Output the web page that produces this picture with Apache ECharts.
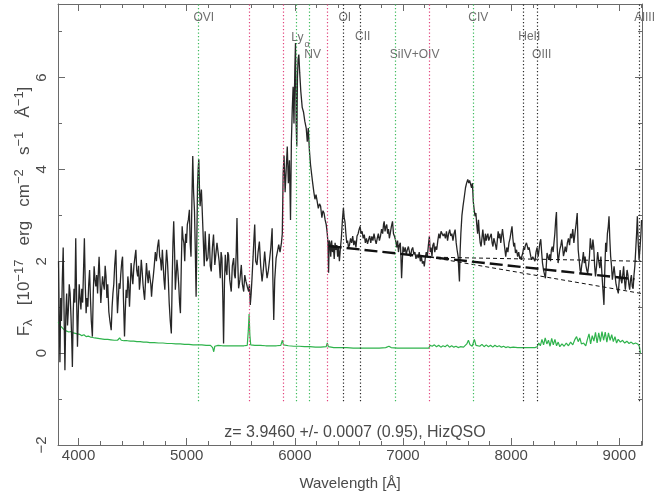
<!DOCTYPE html>
<html>
<head>
<meta charset="utf-8">
<script src="https://cdn.jsdelivr.net/npm/echarts@6/dist/echarts.min.js"></script>
<style>
  html, body { margin: 0; background: #fff; }
  #chart { width: 664px; height: 495px; }
</style>
</head>
<body>
<div id="chart"></div>
<script>
// observed spectrum, [wavelength (A), flux (1e-17 erg/cm2/s/A)]
const fluxBlue = [
  [3815,2.0],[3822,0.6],[3828,-0.2],[3835,1.2],[3842,0.7],[3850,1.6],[3858,2.3],[3866,0.9],[3874,-0.37],[3882,0.8],
  [3890,1.3],[3898,0.6],[3906,0.95],[3914,1.5],[3922,1.3],[3930,0.8],[3937,0.3],[3943,-0.3],[3951,0.9],[3958,1.4],
  [3966,1.1],[3974,2.5],[3982,1.2],[3990,0.14],[3998,0.9],[4006,1.5],[4014,1.2],[4022,0.95],[4030,1.4],[4038,1.1],
  [4046,1.8],[4054,2.5],[4062,1.5],[4070,0.87],[4078,1.2],[4086,1.01],[4094,1.5],[4102,1.81],[4110,1.2],[4118,0.7],
  [4128,0.36],[4136,1.3],[4144,1.89],[4152,1.6],[4160,1.45],[4168,1.7],[4176,1.3],[4184,1.8],[4190,2.1],[4198,1.6],
  [4206,1.09],[4214,1.4],[4222,1.67],[4230,1.5],[4238,1.38],[4246,1.9],[4254,1.67],[4262,1.2],[4270,1.5],[4280,0.9],
  [4290,0.7],[4302,0.5],[4310,1.0],[4318,1.3],[4326,1.5],[4334,1.9],[4345,2.25],[4352,1.5],[4360,0.87],[4368,1.2],
  [4375,1.52],[4383,1.4],[4390,1.7],[4400,2.0],[4407,2.1],[4415,1.2],[4425,0.36],[4432,0.9],[4440,1.38],[4448,1.2],
  [4456,1.67],[4463,1.5],[4471,1.01],[4478,1.4],[4486,1.96],[4494,1.7],[4502,1.5],[4512,1.9],[4522,2.1],[4530,2.25],
  [4538,1.8],[4547,1.67],[4555,1.9],[4563,1.38],[4571,1.6],[4580,2.03],[4588,1.8],[4596,1.5],[4604,1.3],[4611,1.16],
  [4620,1.6],[4628,1.96],[4636,1.7],[4644,1.52],[4652,1.8],[4660,1.81],[4668,1.5],[4675,1.23],[4683,1.5],[4691,1.67],
  [4700,1.9],[4710,2.2],[4720,2.0],[4730,2.3],[4741,2.47],[4750,2.1],[4758,2.03],[4766,1.8],[4775,2.25],[4783,1.9],
  [4790,1.6],[4798,1.38],[4806,1.9],[4814,2.25],[4822,2.0],[4830,1.6],[4838,1.1],[4848,0.7],[4858,0.43],[4866,1.6],
  [4873,2.4],[4880,2.87],[4888,2.2],[4895,1.38],[4903,1.7],[4910,2.03],[4918,1.8],[4926,1.5],[4934,1.1],[4942,0.87],
  [4950,1.9],[4958,2.76],[4966,2.5],[4974,2.4],[4982,2.0],[4990,2.6],[4998,2.4],[5006,2.8],[5015,2.9],[5025,3.12],
  [5032,2.4],[5040,2.1],[5048,3.3],[5056,4.29],[5064,3.49],[5072,3.1],[5080,2.2],[5087,1.23],[5094,2.5],[5100,3.63],
  [5106,4.0],[5112,4.22],[5118,3.6],[5124,3.2],[5130,3.4],[5136,3.56],[5142,3.2],[5150,2.7],[5156,2.3],[5162,1.89]
];
const fluxLya = [
  [5171,2.65],[5184,2.0],[5196,2.07],[5208,2.6],[5218,1.9],[5227,1.78],[5238,2.3],[5248,2.58],[5260,1.92],[5270,1.92],
  [5280,2.4],[5288,2.43],[5300,2.0],[5310,1.63],[5318,2.2],[5326,2.07],[5334,1.2],[5341,0.21],[5349,1.5],[5357,2.14],
  [5365,1.8],[5372,1.7],[5380,2.2],[5387,2.14],[5398,1.6],[5412,1.34],[5422,1.9],[5434,2.07],[5442,1.7],[5449,1.63],
  [5458,2.2],[5465,2.94],[5472,2.0],[5480,1.41],[5492,1.6],[5505,1.92],[5515,1.5],[5527,1.34],[5537,1.7],[5548,1.56],
  [5560,1.45],[5573,1.34],[5580,1.5],[5588,1.05],[5596,1.3],[5604,1.63],[5614,2.1],[5622,2.5],[5629,2.8],[5638,2.0],
  [5650,1.92],[5660,2.2],[5672,2.43],[5684,1.9],[5697,1.56],[5708,1.8],[5721,2.21],[5732,1.9],[5743,1.63],[5755,1.8],
  [5768,2.07],[5778,2.3],[5790,2.72],[5797,1.6],[5805,0.72],[5814,1.6],[5827,2.07],[5838,2.2],[5851,2.36],[5863,2.2],
  [5876,2.4],[5884,2.6],[5892,3.9],[5900,4.3],[5910,3.5],[5920,4.0],[5930,4.5],[5940,3.7],[5950,4.2],[5960,2.9],
  [5968,4.6],[5976,5.3],[5984,5.8],[5992,5.0],[6000,6.2],[6006,6.75],[6012,5.0],[6018,4.5],[6024,6.0],[6030,6.4],
  [6037,6.5],[6045,6.1],[6055,5.7],[6068,5.35],[6080,5.25],[6092,5.05],[6105,4.9],[6115,4.6],[6124,4.9],[6135,4.4],
  [6145,4.1],[6155,3.9],[6165,3.7],[6176,3.5],[6186,3.35],[6196,3.45],[6207,3.3],[6217,3.15],[6228,3.25],[6238,3.2],
  [6250,2.95],[6260,3.1],[6270,3.05],[6280,2.9],[6290,2.8],[6300,2.6],[6306,2.4],[6312,1.75],[6318,2.45],[6325,2.4],
  [6332,2.1],[6340,2.45],[6348,2.2],[6356,2.35],[6364,2.05],[6372,2.4],[6380,2.25],[6388,2.35],[6396,2.1],[6404,2.3],
  [6412,2.0],[6420,2.25],[6430,2.5],[6440,2.9]
];
const fluxMid = [
  [6449,3.16],[6456,2.95],[6464,2.85],[6472,2.6],[6480,2.4],[6488,2.45],[6496,2.3],[6505,2.35],[6515,2.5],[6525,2.4],
  [6535,2.55],[6545,2.35],[6555,2.45],[6565,2.3],[6575,2.55],[6585,2.6],[6595,2.7],[6603,2.76],[6612,2.6],[6622,2.65],
  [6632,2.5],[6642,2.58],[6652,2.4],[6662,2.5],[6672,2.38],[6682,2.47],[6692,2.55],[6702,2.4],[6712,2.54],[6722,2.45],
  [6732,2.6],[6742,2.47],[6752,2.38],[6762,2.5],[6772,2.6],[6782,2.45],[6792,2.55],[6802,2.7],[6812,2.6],[6820,2.8],
  [6826,2.87],[6834,2.65],[6842,2.75],[6850,2.8],[6858,2.6],[6866,2.7],[6874,2.5],[6882,2.6],[6892,2.75],[6903,2.87],
  [6912,2.6],[6922,2.54],[6932,2.45],[6942,2.3],[6950,2.45],[6958,2.2],[6966,2.35],[6975,2.4],[6981,2.1],[6987,1.63],
  [6994,2.0],[7000,2.32],[7010,2.2],[7020,2.3],[7030,2.15],[7040,2.25],[7050,2.32],[7060,2.2],[7070,2.1],[7080,2.25],
  [7090,2.3],[7100,2.15],[7110,2.2],[7120,2.05],[7130,2.15],[7140,2.07],[7150,2.2],[7160,2.0],[7170,2.1],[7180,1.95],
  [7190,2.0],[7197,1.89],[7205,2.05],[7215,2.2],[7225,2.1],[7235,2.35],[7244,2.54],[7252,2.2],[7260,2.3],[7268,2.1],
  [7276,2.35],[7285,2.4],[7294,2.2],[7303,2.32],[7312,2.25],[7322,2.45],[7332,2.6],[7342,2.5],[7352,2.65],[7362,2.69],
  [7372,2.55],[7382,2.6],[7392,2.5],[7402,2.65],[7412,2.45],[7422,2.6],[7432,2.69],[7442,2.55],[7452,2.6],[7462,2.45],
  [7472,2.6],[7482,2.69],[7492,2.4],[7500,2.25],[7510,2.1],[7516,1.8],[7522,1.56],[7528,2.2]
];
const fluxRed = [
  [7535,2.6],[7545,3.0],[7555,3.2],[7568,3.42],[7578,3.6],[7588,3.7],[7599,3.78],[7608,3.7],[7616,3.76],[7625,3.75],
  [7634,3.6],[7642,3.7],[7650,3.3],[7658,3.12],[7666,2.98],[7674,3.05],[7682,2.8],[7690,2.6],[7698,2.9],[7706,2.6],
  [7714,2.4],[7722,2.32],[7730,2.5],[7738,2.69],[7746,2.5],[7754,2.35],[7762,2.6],[7770,2.45],[7778,2.55],[7785,2.6],
  [7793,2.45],[7800,2.47],[7808,2.55],[7816,2.6],[7824,2.4],[7832,2.32],[7840,2.5],[7848,2.54],[7856,2.35],[7864,2.25],
  [7872,2.45],[7880,2.65],[7888,2.5],[7896,2.6],[7904,2.4],[7912,2.55],[7920,2.7],[7930,2.5],[7940,2.3],[7950,2.1],
  [7960,2.3],[7970,2.2],[7980,2.4],[7990,2.5],[8000,2.65],[8008,2.76],[8016,2.5],[8024,2.32],[8032,2.4],[8040,2.18],
  [8050,2.25],[8060,2.1],[8070,2.2],[8080,2.05],[8088,2.1],[8094,2.03],[8100,2.12],[8108,2.18],[8116,2.3],[8124,2.25],
  [8132,2.35],[8142,2.4],[8150,2.38],[8158,2.25],[8166,2.3],[8174,2.2],[8182,2.1],[8190,2.03],[8200,2.1],[8210,2.14],
  [8220,2.0],[8230,2.2],[8240,2.3],[8250,2.1],[8258,2.25],[8266,2.4],[8274,2.48],[8282,2.2],[8290,1.96],[8300,1.8],
  [8310,1.7],[8317,1.63],[8325,1.9],[8332,2.18],[8340,2.1],[8348,2.03],[8356,2.15],[8364,2.0],[8372,2.25],[8380,2.32],
  [8388,2.2],[8396,2.4],[8404,2.6],[8412,2.9],[8419,3.07],[8426,2.3],[8434,1.96],[8442,2.1],[8450,2.25],[8460,2.35],
  [8468,2.47],[8476,2.3],[8484,2.11],[8492,2.2],[8500,2.32],[8510,2.2],[8520,2.4],[8530,2.5],[8540,2.35],[8550,2.6],
  [8560,2.5],[8570,2.7],[8580,2.4],[8590,2.6],[8600,2.8],[8611,3.05],[8620,2.25],[8630,2.0],[8638,1.8],[8645,1.74],
  [8652,1.9],[8660,2.03],[8668,2.2],[8676,1.96],[8684,2.1],[8692,1.9],[8700,1.8],[8708,1.74],[8716,1.9],[8724,2.1],
  [8732,2.5],[8740,2.3],[8748,2.25],[8756,2.47],[8764,2.3],[8772,1.9],[8780,1.67],[8790,1.9],[8800,2.2],[8810,2.0],
  [8820,1.85],[8830,2.1],[8840,1.7],[8848,1.4],[8858,1.05],[8866,1.8],[8874,2.4],[8882,2.2],[8890,2.6],[8898,2.75],
  [8905,2.98],[8912,2.5],[8920,2.11],[8928,1.9],[8936,1.6],[8944,1.75],[8952,1.89],[8960,1.7],[8970,1.5],[8980,1.4],
  [8991,1.3],[9000,1.6],[9008,1.81],[9016,1.6],[9024,1.52],[9032,1.7],[9040,1.89],[9048,1.6],[9056,1.38],[9064,1.6],
  [9072,1.81],[9080,1.7],[9088,1.5],[9096,1.38],[9104,1.6],[9112,1.7],[9120,1.45],[9128,1.4],[9136,1.7],[9144,1.9],
  [9152,2.25],[9160,2.6],[9167,2.98],[9175,2.4],[9183,2.03],[9192,2.3],[9200,2.6],[9206,2.9]
];

// error spectrum (green)
const noiseBlue = [
  [3812,0.68],[3830,0.6],[3850,0.55],[3870,0.5],[3890,0.48],[3910,0.46],[3930,0.47],[3950,0.44],[3970,0.43],[3990,0.42],
  [4010,0.41],[4030,0.38],[4050,0.4],[4070,0.36],[4090,0.37],[4110,0.35],[4130,0.34],[4150,0.33],[4180,0.32],[4210,0.31],
  [4240,0.3],[4270,0.3],[4300,0.29],[4330,0.28],[4360,0.28],[4380,0.33],[4395,0.28],[4420,0.27],[4450,0.27],[4480,0.26],
  [4510,0.26],[4540,0.25],[4570,0.25],[4600,0.24],[4630,0.24],[4660,0.23],[4700,0.23],[4740,0.22],[4780,0.22],[4820,0.21],
  [4860,0.21],[4900,0.2],[4940,0.2],[4980,0.19],[5020,0.19],[5060,0.18],[5100,0.18],[5140,0.18],[5180,0.17],[5220,0.17],
  [5240,0.12],[5250,0.03],[5260,0.15],[5290,0.17],[5330,0.16],[5370,0.16],[5410,0.16],[5450,0.16],[5490,0.16],[5530,0.16],
  [5560,0.17],[5570,0.5],[5577,0.85],[5584,0.4],[5592,0.18],[5630,0.17],[5680,0.17],[5730,0.16],[5780,0.16],[5830,0.16],
  [5870,0.17],[5885,0.28],[5895,0.18],[5940,0.16],[5990,0.15],[6040,0.15],[6090,0.14],[6140,0.14],[6190,0.13],[6240,0.13],
  [6290,0.14],[6300,0.22],[6310,0.14],[6360,0.12],[6420,0.12],[6480,0.12],[6540,0.11],[6600,0.11],[6660,0.11],[6720,0.11],
  [6780,0.11],[6840,0.12],[6870,0.15],[6890,0.12],[6950,0.11],[7010,0.11],[7070,0.11],[7130,0.11],[7190,0.11],[7240,0.11]
];
const noiseRed = [
  [7250,0.17],[7270,0.15],[7290,0.18],[7310,0.14],[7330,0.17],[7350,0.13],[7370,0.16],[7390,0.14],[7410,0.18],[7430,0.13],
  [7450,0.16],[7470,0.13],[7490,0.15],[7510,0.12],[7530,0.14],[7560,0.13],[7590,0.2],[7605,0.28],[7620,0.18],[7640,0.15],
  [7660,0.3],[7675,0.17],[7690,0.2],[7710,0.15],[7730,0.19],[7750,0.14],[7770,0.18],[7790,0.14],[7810,0.17],[7830,0.13],
  [7850,0.17],[7870,0.14],[7890,0.16],[7910,0.13],[7930,0.15],[7950,0.12],[7970,0.14],[7990,0.12],[8020,0.13],[8060,0.12],
  [8100,0.12],[8140,0.12],[8180,0.12],[8220,0.12],[8240,0.14],[8255,0.22],[8270,0.16],[8285,0.3],[8300,0.18],[8315,0.33],
  [8330,0.2],[8345,0.28],[8360,0.15],[8375,0.32],[8390,0.18],[8405,0.3],[8420,0.16],[8435,0.24],[8450,0.14],[8470,0.2],
  [8490,0.15],[8510,0.22],[8530,0.16],[8550,0.24],[8570,0.18],[8590,0.3],[8605,0.36],[8620,0.25],[8635,0.33],[8650,0.2],
  [8670,0.22],[8690,0.16],[8705,0.3],[8720,0.42],[8735,0.2],[8750,0.38],[8765,0.26],[8780,0.45],[8795,0.22],[8810,0.44],
  [8825,0.25],[8840,0.47],[8855,0.28],[8870,0.46],[8885,0.24],[8900,0.44],[8915,0.28],[8930,0.4],[8945,0.25],[8960,0.36],
  [8975,0.22],[8990,0.3],[9010,0.24],[9030,0.28],[9050,0.22],[9070,0.26],[9090,0.21],[9110,0.24],[9130,0.2],[9150,0.22],
  [9170,0.2],[9185,0.15],[9195,0.0]
];

// continuum fit and its two bounds
const fitMain = [[6313, 2.33], [9140, 1.61]];
const fitUpper = [[7250, 2.09], [9200, 2.0]];
const fitLower = [[7250, 2.09], [9200, 1.30]];

// identified lines: emission (green), sky (magenta), other (black)
const lineNames = ['OVI', '', '', 'Lyα', 'NV', '', 'OI', 'CII', 'SiIV+OIV', '', 'CIV', 'HeII', 'OIII', 'AlIII'];
const lineWaves = [5108, 5577, 5893, 6014, 6133, 6300, 6450, 6603, 6924, 7246, 7650, 8112, 8240, 9185];
const lineKinds = ['em', 'sky', 'sky', 'em', 'em', 'sky', 'abs', 'abs', 'em', 'sky', 'em', 'abs', 'abs', 'abs'];

const xTicks = [4000, 5000, 6000, 7000, 8000, 9000];
const xMinorTicks = [4200, 4400, 4600, 4800, 5200, 5400, 5600, 5800, 6200, 6400, 6600, 6800,
  7200, 7400, 7600, 7800, 8200, 8400, 8600, 8800, 9200];
const yTicks = [-2, 0, 2, 4, 6];
const yMinorTicks = [-1, 1, 3, 5, 7];

const redshiftText = 'z= 3.9460 +/- 0.0007 (0.95), HizQSO';

// ---- styling ----
const xMin = 3810, xMax = 9210, yMin = -2, yMax = 7.6;
const lineBottom = -1.05;
const font = 'Liberation Sans';
const frameColor = '#6a6a6a';
const textColor = '#4a4a4a';
const kindColor = { em: '#3dbb5c', sky: '#e2457e', abs: '#2a2a2a' };
const labelRow = { 'OVI': 0, 'Lyα': 1, 'NV': 2, 'OI': 0, 'CII': 1, 'SiIV+OIV': 2, 'CIV': 0, 'HeII': 1, 'OIII': 2, 'AlIII': 0 };
const rowY = [7.3, 6.88, 6.5];

const chart = echarts.init(document.getElementById('chart'));

const frameAxis = (dim, position, ticks, len, main) => ({
  type: 'value',
  position,
  min: dim === 'x' ? xMin : yMin,
  max: dim === 'x' ? xMax : yMax,
  splitLine: { show: false },
  axisLine: { show: main, onZero: false, lineStyle: { color: frameColor, width: 1 } },
  axisTick: { show: true, inside: true, length: len, customValues: ticks, lineStyle: { color: frameColor } },
  axisLabel: { show: false }
});

const xAxes = [
  Object.assign(frameAxis('x', 'bottom', xTicks, 7, true), {
    axisLabel: {
      show: true, customValues: xTicks, margin: 3, fontSize: 15, fontFamily: font, color: textColor,
      formatter: (v) => String(v)
    },
    name: 'Wavelength [Å]',
    nameLocation: 'middle',
    nameGap: 31,
    nameMoveOverlap: false,
    nameTextStyle: { fontSize: 15, fontFamily: font, color: textColor }
  }),
  frameAxis('x', 'bottom', xMinorTicks, 4, false),
  frameAxis('x', 'top', xTicks, 7, true),
  frameAxis('x', 'top', xMinorTicks, 4, false)
];

const yAxes = [
  Object.assign(frameAxis('y', 'left', yTicks, 7, true), {
    axisLabel: {
      show: true, customValues: yTicks, rotate: 90, margin: 9, fontSize: 15, fontFamily: font, color: textColor,
      formatter: (v) => String(v).replace('-', '−')
    },
    name: '{t|F}{sub|λ}{t|   [10}{sup|−17}{t|   erg   cm}{sup|−2}{t|   s}{sup|−1}{t|   Å}{sup|−1}{t|]}',
    nameLocation: 'middle',
    nameGap: 23,
    nameRotate: 90,
    nameMoveOverlap: false,
    nameTextStyle: {
      padding: [0, 0, 0, 26],
      rich: {
        t: { fontSize: 17, lineHeight: 22, fontFamily: font, color: textColor },
        sup: { fontSize: 13, lineHeight: 12, verticalAlign: 'top', fontFamily: font, color: textColor },
        sub: { fontSize: 13, lineHeight: 12, verticalAlign: 'bottom', fontFamily: font, color: textColor }
      }
    }
  }),
  frameAxis('y', 'left', yMinorTicks, 4, false),
  frameAxis('y', 'right', yTicks, 7, true),
  frameAxis('y', 'right', yMinorTicks, 4, false)
];

const labelData = lineNames
  .map((name, i) => ({ name, i }))
  .filter((d) => d.name)
  .map(({ name, i }) => ({
    value: [lineWaves[i], rowY[labelRow[name]]],
    label: name === 'Lyα'
      ? { formatter: '{m|Ly}{s|α}', offset: [-5, 1] }
      : { formatter: name }
  }));

const markLines = lineWaves.map((w, i) => [
  { coord: [w, lineBottom], lineStyle: { color: kindColor[lineKinds[i]], type: [1.3, 2.2], width: 1.2 } },
  { coord: [w, yMax] }
]);

const dashed = (data, width, dash, z) => ({
  type: 'line',
  data,
  showSymbol: false,
  symbol: 'none',
  silent: true,
  z,
  lineStyle: { color: '#111', width, type: dash }
});

chart.setOption({
  animation: false,
  backgroundColor: '#fff',
  grid: { left: 58, right: 22, top: 4, bottom: 50, containLabel: false, outerBoundsMode: 'none' },
  xAxis: xAxes,
  yAxis: yAxes,
  graphic: [{
    type: 'text',
    x: 355,
    y: 433,
    style: {
      text: redshiftText,
      fontSize: 16,
      fontFamily: font,
      fill: textColor,
      align: 'center',
      verticalAlign: 'middle'
    }
  }],
  series: [
    {
      type: 'scatter',
      data: labelData,
      symbolSize: 0,
      silent: true,
      z: 1,
      label: {
        show: true,
        position: 'inside',
        align: 'left',
        verticalAlign: 'middle',
        offset: [-5, 0],
        fontSize: 12,
        fontFamily: font,
        color: textColor,
        rich: {
          m: { fontSize: 12, lineHeight: 12, verticalAlign: 'top', fontFamily: font, color: textColor },
          s: { fontSize: 9, lineHeight: 9, verticalAlign: 'top', padding: [8, 0, 0, 1], fontFamily: font, color: textColor }
        }
      },
      markLine: {
        silent: true,
        symbol: ['none', 'none'],
        label: { show: false },
        animation: false,
        data: markLines
      }
    },
    {
      type: 'line',
      data: noiseBlue.concat(noiseRed),
      showSymbol: false,
      symbol: 'none',
      silent: true,
      z: 2,
      lineStyle: { color: '#2fb34c', width: 1.2 }
    },
    {
      type: 'line',
      data: fluxBlue.concat(fluxLya, fluxMid, fluxRed),
      showSymbol: false,
      symbol: 'none',
      silent: true,
      z: 3,
      lineStyle: { color: '#262626', width: 1.3 }
    },
    dashed(fitUpper, 1, [4, 3], 4),
    dashed(fitLower, 1, [4, 3], 4),
    dashed(fitMain, 2.4, [13, 5], 5)
  ]
});

window.addEventListener('resize', () => chart.resize());
</script>
</body>
</html>
